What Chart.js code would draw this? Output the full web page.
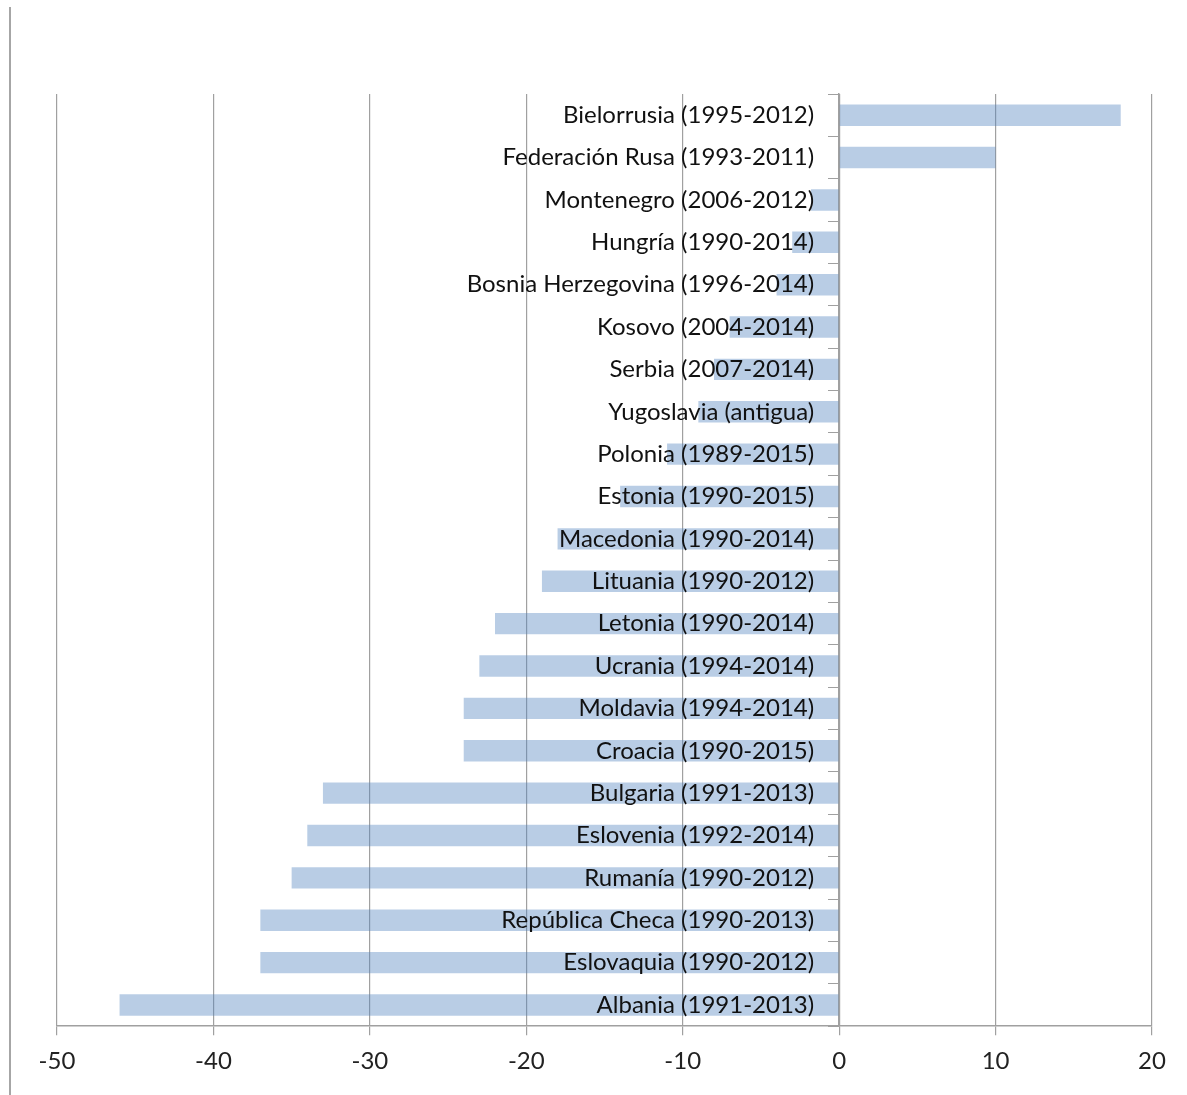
<!DOCTYPE html>
<html>
<head>
<meta charset="utf-8">
<script src="https://cdn.jsdelivr.net/npm/chart.js@4"></script>
<style>
  html, body { margin: 0; padding: 0; background: #fff; }
  #wrap { position: relative; width: 1187px; height: 1095px; }
  #marco { position: absolute; left: 9px; top: 7px; bottom: 0; border-left: 2px solid #a6a6a6; }
</style>
</head>
<body>
<div id="wrap">
  <div id="marco"></div>
  <canvas id="graficoPaises" width="1187" height="1095"></canvas>
</div>
<script>
// paises y periodos
const paises = [
  "Bielorrusia (1995-2012)",
  "Federación Rusa (1993-2011)",
  "Montenegro (2006-2012)",
  "Hungría (1990-2014)",
  "Bosnia Herzegovina (1996-2014)",
  "Kosovo (2004-2014)",
  "Serbia (2007-2014)",
  "Yugoslavia (antigua)",
  "Polonia (1989-2015)",
  "Estonia (1990-2015)",
  "Macedonia (1990-2014)",
  "Lituania (1990-2012)",
  "Letonia (1990-2014)",
  "Ucrania (1994-2014)",
  "Moldavia (1994-2014)",
  "Croacia (1990-2015)",
  "Bulgaria (1991-2013)",
  "Eslovenia (1992-2014)",
  "Rumanía (1990-2012)",
  "República Checa (1990-2013)",
  "Eslovaquia (1990-2012)",
  "Albania (1991-2013)"
];

const valores = [18, 10, -1.8, -3, -4, -7, -8, -9, -11, -14, -18, -19, -22, -23, -24, -24, -33, -34, -35, -37, -37, -46];

const ejeMin = -50;
const ejeMax = 20;
const paso = 10;

const fuente = "Lato, 'Open Sans', sans-serif";
const gris = "#a0a0a0";

// las etiquetas de pais van pegadas al eje del cero, encima de las barras
const etiquetasEnCero = {
  id: "etiquetasEnCero",
  afterDatasetsDraw(chart) {
    const { ctx, scales } = chart;
    const x0 = scales.x.getPixelForValue(0);
    ctx.save();
    ctx.font = "24px " + fuente;
    ctx.fillStyle = "#111";
    ctx.textAlign = "right";
    ctx.textBaseline = "middle";
    chart.data.labels.forEach((texto, i) => {
      ctx.fillText(texto, x0 - 25, scales.y.getPixelForTick(i));
    });
    ctx.restore();
  },
};

const ctx = document.getElementById("graficoPaises").getContext("2d");

new Chart(ctx, {
  type: "bar",
  data: {
    labels: paises,
    datasets: [
      {
        data: valores,
        backgroundColor: "rgba(79, 129, 189, 0.4)",
        borderWidth: 0,
        barPercentage: 0.505,
        categoryPercentage: 1,
      },
    ],
  },
  options: {
    indexAxis: "y",
    responsive: false,
    animation: false,
    layout: {
      padding: { left: 57, right: 35, top: 94, bottom: 7 },
    },
    plugins: {
      legend: { display: false },
      tooltip: { enabled: false },
    },
    scales: {
      x: {
        type: "linear",
        position: "bottom",
        min: ejeMin,
        max: ejeMax,
        ticks: {
          stepSize: paso,
          color: "#222",
          padding: 12,
          font: { family: fuente, size: 24 },
        },
        grid: {
          color: gris,
          lineWidth: 1.2,
          tickLength: 9,
        },
        border: { color: gris, width: 1.5 },
      },
      y: {
        position: { x: 0 },
        ticks: { display: false },
        grid: {
          drawOnChartArea: false,
          offset: true,
          tickLength: 10,
          color: gris,
        },
        border: { color: gris, width: 1.5 },
      },
    },
  },
  plugins: [etiquetasEnCero],
});
</script>
</body>
</html>
